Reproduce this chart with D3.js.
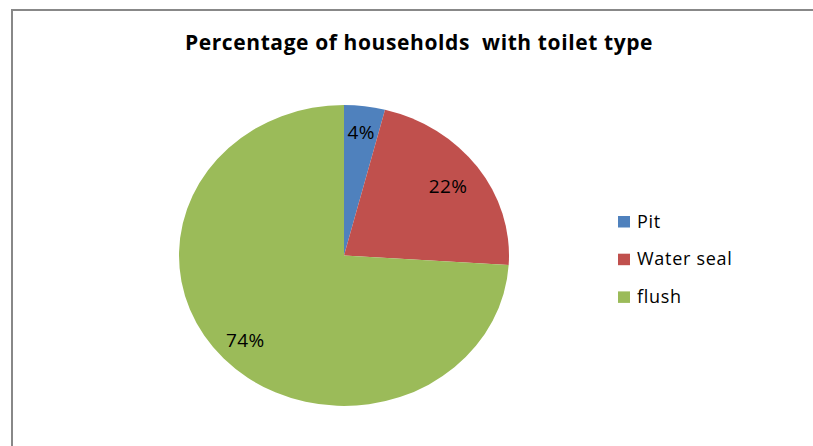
<!DOCTYPE html>
<html>
<head>
<meta charset="UTF-8" />
<title>Percentage of households with toilet type</title>
<script src="https://d3js.org/d3.v7.min.js"></script>
<style>
  body { margin: 0; background: #fff; }
  text { font-family: "Open Sans", sans-serif; fill: #000; }
  .title { font-size: 21px; font-weight: bold; letter-spacing: 0.6px; }
  .label { font-size: 19px; letter-spacing: 0.5px; }
  .legend text { font-size: 18px; letter-spacing: 0.7px; }
</style>
</head>
<body>
<div id="chart"></div>
<script>
// chart data
var categories = ["Pit", "Water seal", "flush"];
var values = [4, 22, 74];
var colors = ["#4F81BD", "#C0504D", "#9BBB59"];

var width = 813, height = 446;
var cx = 344, cy = 255.5, rx = 165, ry = 150.5;

var svg = d3.select("#chart").append("svg")
  .attr("width", width)
  .attr("height", height);

// chart area border (cut off at right and bottom)
svg.append("path")
  .attr("d", "M12,446 L12,10 L813,10")
  .attr("fill", "none")
  .attr("stroke", "#888")
  .attr("stroke-width", 2);

svg.append("text")
  .attr("class", "title")
  .attr("x", 419)
  .attr("y", 50)
  .attr("text-anchor", "middle")
  .style("white-space", "pre")
  .text("Percentage of households  with toilet type");

var pie = d3.pie().sort(null).value(function(d) { return d; });
var arcs = pie(values);
var arc = d3.arc().innerRadius(0).outerRadius(rx);

// pie is drawn as a circle then squashed vertically
var g = svg.append("g")
  .attr("transform", "translate(" + cx + "," + cy + ") scale(1," + (ry / rx) + ")");

g.selectAll("path")
  .data(arcs).enter()
  .append("path")
  .attr("d", arc)
  .attr("fill", function(d, i) { return colors[i]; });

// labels
var labelPos = [0.83, 0.78, 0.82];
svg.selectAll(".label")
  .data(arcs).enter()
  .append("text")
  .attr("class", "label")
  .attr("text-anchor", "middle")
  .attr("x", function(d, i) {
    var a = (d.startAngle + d.endAngle) / 2;
    return cx + Math.sin(a) * rx * labelPos[i];
  })
  .attr("y", function(d, i) {
    var a = (d.startAngle + d.endAngle) / 2;
    return cy - Math.cos(a) * ry * labelPos[i] + 7;
  })
  .text(function(d) { return d.value + "%"; });

// legend
var legend = svg.append("g").attr("class", "legend")
  .attr("transform", "translate(618,216)");

var item = legend.selectAll("g")
  .data(categories).enter()
  .append("g")
  .attr("transform", function(d, i) { return "translate(0," + (i * 37.7) + ")"; });

item.append("rect")
  .attr("width", 12)
  .attr("height", 11.5)
  .attr("fill", function(d, i) { return colors[i]; });

item.append("text")
  .attr("x", 19)
  .attr("y", 11.5)
  .text(function(d) { return d; });
</script>
</body>
</html>
